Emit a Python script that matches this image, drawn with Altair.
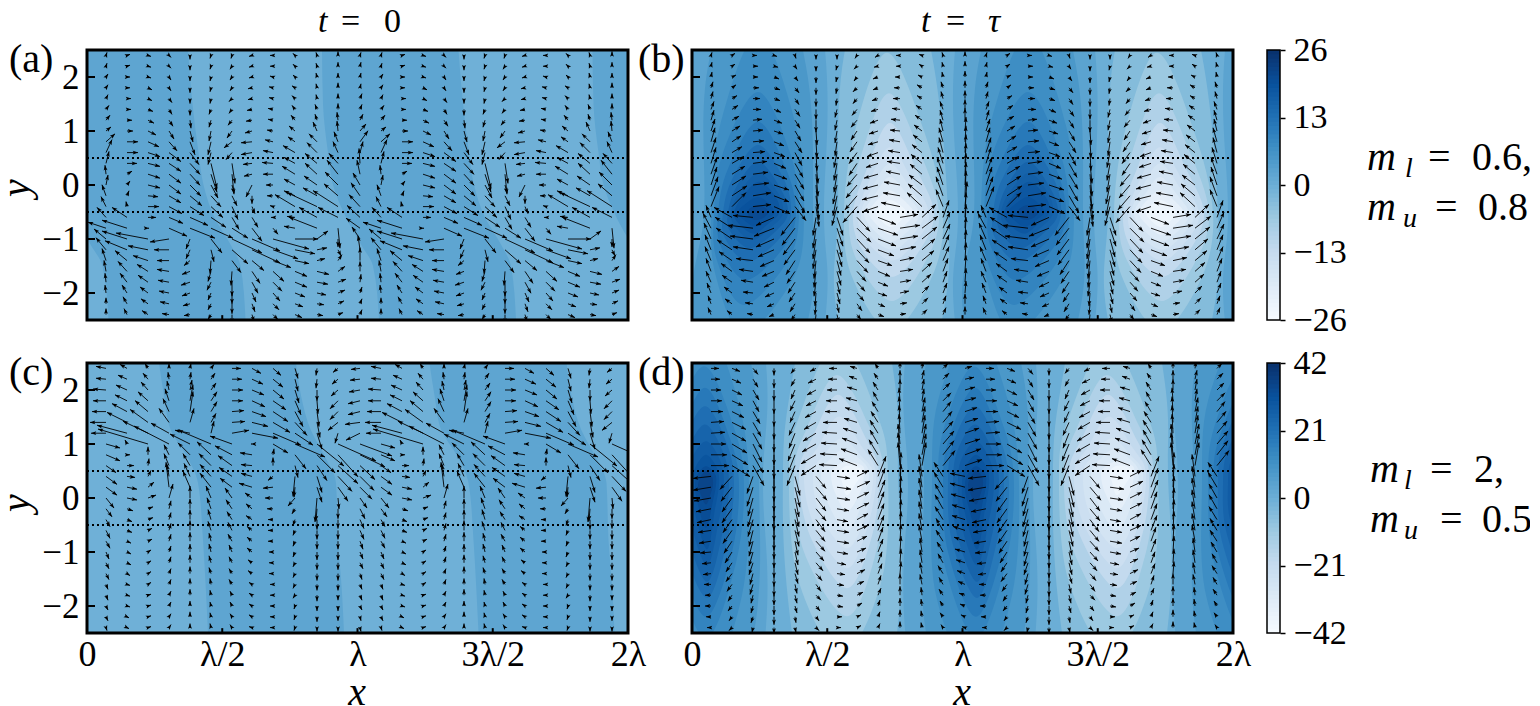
import altair as alt, pandas as pd, numpy as np

FONT="Liberation Serif"
BL_D=[0,.125,.25,.375,.5,.625,.75,.875,1]
BL_R=['#f7fbff','#deebf7','#c6dbef','#9ecae1','#6baed6','#4292c6','#2171b5','#08519c','#08306b']
S=alt.Scale(domain=BL_D,range=BL_R)
XS=alt.Scale(domain=[0,541],nice=False,zero=False)
YS=alt.Scale(domain=[-2.5,2.5],nice=False,zero=False)
XTICKS=[0,135.25,270.5,405.75,541]
YTICKS=[-2,-1,0,1,2]
ROW_Y=[2.4,2.2,2.0,1.8,1.6,1.4,1.2,1.0,.8,.6,.4,.2,0,-.2,-.4,-.6,-.8,-1,-1.2,-1.4,-1.6,-1.8,-2,-2.2,-2.4]
COL_X=[19,40,61,82,103,124,145,165,186,208,230,251,273,294,315,336,357,377,398,418,438,459,481,503,525]

# f, Ytop,Xtop, Yu,lu,ru, Ym,lm,rm, Yl,ll,rl, Ybot,Xbot
B_DARK=[[.55,9,64,3,-4,130,-.5,-4,132,-3,-4,130,-10,64],
[.60,5,66,2.2,16,114,-.52,12,121,-2.5,2,116,-6,56],
[.64,2.8,66,1.1,28,104,-.52,19,112,-1.7,24,102,-2.75,52],
[.68,1.72,66,.6,31,98,-.52,22,107,-1.4,25,96,-2.22,52],
[.72,1.17,66,.3,36,94,-.52,26,104,-1.15,29,92,-1.76,54],
[.76,.74,66,.1,40,92,-.52,31,99,-.98,33,88,-1.42,56],
[.80,.43,66,-.05,44,88,-.52,36,96,-.85,38,84,-1.17,58],
[.82,.22,67,-.15,47,86,-.52,39,91,-.77,43,80,-1.02,60],
[.85,.06,67,-.23,50,84,-.52,42,87,-.72,47,76,-.9,62],
[.87,-.22,66,-.37,52,78,-.52,46,82,-.65,52,74,-.77,63],
[.90,-.37,66,-.43,58,74,-.52,56,76,-.6,58,72,-.65,64]]
B_LIGHT=[[.44,5,199,2.4,152,240,-.52,146,256,-2.5,146,250,-6,199],
[.38,2.45,195,1,163,232,-.52,152,251,-1.7,160,240,-2.7,199],
[.32,1.7,197,.6,170,228,-.52,157,247,-1.4,165,234,-2.15,200],
[.26,1.15,198,.3,175,224,-.52,161,242,-1.2,170,228,-1.7,200],
[.22,.7,198,.1,178,220,-.52,166,237,-1,173,226,-1.4,200],
[.18,.4,198,-.05,180,218,-.52,169,232,-.9,176,222,-1.2,200],
[.14,.15,198,-.2,182,216,-.52,172,227,-.8,180,219,-1.05,199],
[.09,-.1,198,-.3,184,213,-.52,177,222,-.72,184,214,-.92,199],
[.05,-.28,198,-.4,188,210,-.52,184,214,-.64,188,210,-.78,199]]
D_DARK=[[.55,9,10,3,-54,71,.25,-54,71,-3,-54,71,-10,10],
[.60,5,12,2.5,-36,59,.25,-38,67,-2.5,-36,62,-5.5,12],
[.64,3.2,12,1.8,-24,46,.25,-30,57,-1.8,-26,50,-3.4,14],
[.68,2.44,12,1.3,-18,42,.25,-24,52,-1.2,-18,44,-2.6,14],
[.72,2.04,13,1.1,-13,38,.25,-19,47,-1,-14,40,-2.2,14],
[.76,1.7,13,1,-9,35,.25,-14,42,-.8,-10,35,-1.85,15],
[.80,1.36,13,.85,-5,31,.25,-9,37,-.6,-6,31,-1.55,15],
[.83,1.05,14,.7,-1,28,.25,-4,32,-.4,-2,27,-1.25,15],
[.86,.8,14,.55,3,25,.25,0,27,-.2,2,23,-.95,15],
[.89,.59,14,.45,6,23,.25,3,24,-.05,5,21,-.55,14],
[.92,.5,14,.4,9,20,.25,6,21,.1,8,19,-.12,14]]
D_LIGHT=[[.44,7,150,2.5,103,200,.45,91,206,-2.5,100,205,-8,150],
[.38,2.9,146,1.5,107,186,.45,97,196,-1.5,106,190,-2.9,150],
[.32,2.28,145,1.3,115,178,.45,102,192,-1,112,184,-2.19,155],
[.26,1.91,146,1.1,120,174,.45,107,187,-.7,118,180,-1.67,155],
[.22,1.51,147,.95,126,170,.45,112,184,-.5,122,176,-1.3,155],
[.18,1.11,150,.8,132,168,.45,121,181,-.3,128,174,-.93,155],
[.14,.9,152,.72,138,168,.45,129,177,-.1,136,170,-.62,155],
[.09,.68,155,.6,145,170,.45,139,172,.1,143,168,-.25,155],
[.05,.6,158,.55,150,168,.45,148,170,.3,150,165,.05,155]]

A_BAND_Y=[2.5,1.5,.6,0,-.6,-1.1,-1.5,-2.5]
A_BAND_L=[235,236,241,246,259,274,286,292]
A_BAND_R=[371.5,376,382,387,398,414,424,429]
C_BAND_Y=[2.5,1.9,1.25,.8,.28,-.78,-1.75,-2.5]
C_BAND_L=[72,77,84,99,111,116,119,121]
C_BAND_R=[209,214,224,237,249,251,255,257]

# arrow components (u,v) per row, 13 columns of one wavelength
A_UV=[[1,3,3,1,3,-1,2,-2,0,-4,-1,-3,-1,-3,-3,-1,-3,0,-2,2,-1,3,0,4,1,3],
[1,3,3,1,3,-1,2,-2,0,-4,-1,-3,-2,-3,-3,-1,-3,0,-2,2,-1,3,0,4,1,4],
[2,3,3,0,3,-1,2,-3,0,-4,-1,-4,-2,-3,-3,-1,-3,1,-2,2,-1,4,0,4,1,4],
[2,3,3,0,4,-2,2,-3,0,-5,-1,-4,-2,-3,-4,-1,-4,1,-3,2,-1,4,0,5,1,4],
[2,4,4,0,4,-2,3,-4,0,-5,-1,-5,-3,-3,-4,-1,-4,1,-3,3,-1,4,0,5,2,5],
[3,4,4,0,5,-2,3,-5,0,-6,-2,-5,-3,-4,-5,-1,-5,1,-3,4,-2,5,0,6,2,5],
[4,5,5,0,6,-3,4,-6,1,-8,-2,-7,-4,-5,-6,-1,-5,1,-4,5,-2,6,-1,8,3,6],
[5,4,6,0,8,-4,5,-8,3,-11,-2,-10,-5,-7,-7,-2,-6,1,-6,5,-4,9,-1,10,6,7],
[9,8,11,0,11,-5,8,-9,5,-13,-3,-13,-8,-6,-11,-1,-8,2,-7,5,-8,8,-4,10,8,11],
[6,13,11,0,12,-4,12,-9,9,-12,-3,-12,-6,-7,-11,-2,-10,2,-12,7,-10,10,-5,11,3,11],
[3,12,10,0,12,-3,12,-8,10,-11,6,-25,3,-20,-9,-1,-11,1,-11,6,-12,10,-9,10,-1,15],
[-1,9,5,3,12,-4,12,-9,10,-11,6,-18,2,-20,-8,-2,-10,0,-13,8,-12,11,-11,14,-3,14],
[2,10,3,4,12,-3,12,-9,11,-11,7,-13,2,-8,-6,-12,-7,0,-11,6,-13,9,-13,13,-7,12],
[-4,11,2,5,10,-1,12,-7,12,-10,10,-11,5,-10,0,-8,-6,0,-11,5,-14,8,-14,12,-9,13],
[-5,10,-1,5,11,0,13,-7,14,-9,12,-11,6,-13,3,-7,-3,1,-20,12,-30,14,-25,16,-11,12],
[-9,10,-15,10,8,0,14,-6,18,-8,15,-10,7,-12,6,-10,-2,0,-8,1,-18,10,-20,10,-13,12],
[-18,6,-25,8,1,0,18,-8,25,-10,22,-10,16,-10,10,-13,5,-6,-11,2,-28,11,2,-20,-14,10],
[-12,10,-25,8,-32,6,-19,-3,-4,-10,11,-14,30,-14,28,-12,36,-10,23,0,11,8,0,-8,-8,12],
[-10,12,-22,9,-20,4,-15,0,-4,-9,3,-12,16,-14,28,-13,25,-9,20,-4,10,2,3,-6,-2,14],
[-4,12,-12,10,-15,5,-12,0,-6,-5,-1,-13,9,-12,12,-10,18,-7,14,-3,8,2,4,6,0,13],
[-2,11,-9,10,-11,7,-12,2,-8,-3,-3,-10,-1,-14,8,-12,11,-10,12,-5,12,-3,7,5,0,10],
[-1,9,-7,9,-10,7,-11,2,-9,-3,-4,-8,0,-14,6,-11,9,-9,12,-5,11,-2,8,3,1,8],
[-1,8,-5,8,-8,6,-10,2,-8,-3,-3,-7,0,-11,4,-9,7,-8,10,-4,9,-2,7,3,2,6],
[0,6,-4,7,-7,5,-9,2,-7,-2,-3,-6,0,-10,3,-8,6,-6,8,-3,7,-1,6,3,2,5],
[0,6,-3,6,-6,4,-7,1,-6,-1,-3,-5,0,-9,2,-7,5,-5,7,-3,6,-1,5,2,2,5]]
B_UV=[[1,3,3,2,4,0,3,-1,1,-3,0,-4,0,-4,-2,-3,-3,-2,-4,0,-3,1,-1,3,0,4],
[1,4,3,2,5,0,4,-1,2,-3,0,-5,-1,-4,-3,-3,-4,-1,-4,0,-3,2,-1,4,0,5],
[1,5,4,2,5,0,5,-2,3,-4,0,-6,-1,-5,-3,-4,-5,-2,-5,0,-4,2,-1,5,0,6],
[2,6,4,3,6,0,6,-2,4,-5,0,-7,-1,-6,-4,-4,-5,-2,-6,0,-5,3,-2,6,0,7],
[2,7,5,3,7,0,6,-2,4,-6,0,-8,-1,-7,-4,-5,-6,-2,-7,0,-5,3,-2,7,0,8],
[3,8,6,4,8,0,7,-3,5,-7,0,-10,-2,-8,-5,-6,-7,-2,-8,1,-6,4,-3,8,0,10],
[3,10,7,4,9,1,8,-3,5,-8,0,-12,-2,-10,-6,-7,-8,-3,-9,1,-7,5,-3,10,0,12],
[4,12,8,5,10,1,9,-3,6,-10,1,-14,-2,-12,-6,-9,-9,-3,-10,1,-8,6,-3,12,1,14],
[4,14,9,6,11,1,10,-4,7,-11,1,-16,-2,-14,-7,-10,-10,-3,-11,2,-9,7,-4,14,1,16],
[5,15,10,6,12,1,11,-4,7,-13,1,-18,-3,-15,-8,-11,-11,-4,-12,2,-10,8,-4,15,1,18],
[5,16,12,7,14,2,12,-5,8,-14,2,-20,-3,-17,-8,-12,-12,-4,-13,2,-11,9,-5,16,1,20],
[6,17,13,8,15,2,13,-5,9,-15,2,-22,-3,-18,-10,-12,-14,-4,-14,3,-12,10,-6,17,1,21],
[6,18,14,9,16,2,15,-5,9,-16,2,-24,-4,-19,-11,-13,-15,-4,-16,3,-13,10,-6,18,1,23],
[7,19,15,10,18,3,15,-6,10,-17,3,-24,-4,-20,-12,-14,-16,-4,-17,3,-14,12,-7,19,1,25],
[8,20,14,14,18,2,16,-7,11,-14,3,-20,-5,-19,-14,-16,-15,-5,-19,4,-15,14,-7,17,2,25],
[-5,12,-18,10,-20,2,-18,-8,-14,-18,-3,-18,6,-18,13,-14,18,-7,18,3,14,13,6,17,1,25],
[-8,15,-17,11,-25,3,-20,-8,-13,-17,-3,-20,6,-18,14,-14,20,-7,20,3,16,12,7,16,1,24],
[-7,16,-16,11,-23,3,-18,-8,-12,-16,-3,-20,5,-18,13,-14,18,-7,18,3,15,12,7,15,1,22],
[-6,15,-15,10,-20,3,-16,-7,-11,-15,-3,-19,5,-17,12,-13,16,-6,16,3,13,11,6,15,1,20],
[-6,14,-13,9,-17,2,-14,-6,-9,-14,-2,-18,4,-15,11,-12,14,-5,14,3,12,10,6,14,1,18],
[-5,13,-11,8,-14,2,-12,-5,-8,-12,-2,-16,4,-14,9,-10,12,-5,13,2,10,9,5,13,1,16],
[-5,11,-10,7,-12,2,-10,-5,-7,-11,-2,-14,3,-12,8,-9,10,-4,11,2,9,8,4,11,1,14],
[-4,10,-8,6,-10,1,-9,-4,-6,-9,-1,-13,3,-11,7,-8,9,-3,9,2,7,7,4,10,1,12],
[-3,8,-7,5,-8,1,-7,-3,-5,-8,-1,-11,2,-9,5,-7,7,-3,7,1,6,6,3,8,0,10],
[-3,7,-5,4,-6,1,-5,-2,-4,-6,-1,-9,2,-8,4,-5,6,-2,6,1,5,5,3,7,0,8]]
C_UV=[[-10,2,-7,4,-3,5,0,5,1,5,3,4,9,0,9,-5,8,-7,3,-10,-1,-7,-5,-4,-9,-1],
[-10,1,-9,4,-5,6,-1,7,1,7,4,6,10,0,11,-5,10,-8,3,-12,-1,-9,-6,-5,-10,-1],
[-13,1,-11,5,-7,8,-2,9,2,10,5,7,11,0,12,-5,11,-9,4,-13,0,-11,-7,-6,-11,-2],
[-13,0,-12,6,-10,9,-4,12,3,16,6,9,11,0,13,-6,13,-9,6,-14,1,-13,-8,-8,-12,-3],
[-14,0,-15,8,-13,11,-6,13,3,20,6,10,12,1,14,-5,15,-10,8,-15,2,-15,-8,-8,-12,-3],
[-16,0,-20,10,-18,13,-10,14,4,14,5,9,13,1,16,-4,17,-10,12,-13,3,-15,-10,-8,-15,-2],
[-15,0,-30,8,-25,12,-18,10,-15,3,3,12,17,3,26,-5,28,-12,18,-12,5,-16,-3,-10,-14,-7],
[14,-4,-2,4,-50,15,-35,18,-20,10,-33,14,-22,8,-1,0,15,-9,30,-13,27,-22,38,-17,32,-12],
[14,-6,3,0,0,8,-5,10,-12,12,-14,13,-17,9,-12,2,1,6,11,-14,18,-18,20,-22,25,-12],
[10,-7,7,0,1,7,-5,12,-7,12,-12,12,-14,10,-11,1,0,8,3,-12,10,-15,20,-18,15,-14],
[11,-8,8,-1,3,6,-2,12,-6,13,-11,12,-13,9,-11,3,-5,-4,-2,-20,5,-16,14,-15,14,-14],
[11,-8,10,-2,6,5,-3,25,-7,16,-11,14,-12,9,-13,4,-10,-1,-1,-10,5,-15,10,-14,12,-12],
[8,-10,10,-2,8,3,4,14,0,12,-5,12,-7,10,-7,5,-8,0,-7,-8,-2,-24,1,-11,7,-10],
[6,-8,6,-2,5,2,2,8,0,10,-4,11,-6,9,-6,5,-6,0,-3,-5,-1,-12,0,-10,5,-10],
[4,-7,5,-2,5,2,2,7,0,10,-3,10,-5,8,-6,4,-5,0,-2,-6,0,-10,0,-9,4,-9],
[4,-8,5,-2,4,2,2,7,0,10,-3,9,-4,8,-5,4,-5,0,-2,-5,0,-9,0,-9,4,-9],
[4,-7,4,-2,4,2,2,7,0,9,-2,8,-4,7,-5,4,-5,0,-2,-5,0,-8,0,-8,3,-8],
[3,-7,4,-2,3,2,2,6,0,8,-2,8,-3,7,-5,4,-4,0,-2,-5,0,-8,0,-8,3,-7],
[3,-6,4,-2,3,2,2,6,0,8,-2,7,-3,6,-4,3,-4,0,-2,-4,0,-7,0,-7,3,-6],
[3,-6,3,-2,3,2,2,5,0,7,-2,6,-3,5,-4,3,-4,0,-2,-4,0,-7,0,-7,2,-6],
[2,-5,3,-1,3,2,2,5,0,6,-1,6,-3,5,-3,2,-3,0,-2,-4,0,-6,0,-6,2,-5],
[2,-5,3,-1,3,1,2,4,0,6,-1,5,-2,4,-3,2,-3,0,-2,-3,0,-6,0,-5,2,-5],
[2,-4,3,-1,3,1,2,4,0,5,-1,4,-2,4,-3,2,-3,0,-1,-3,0,-5,0,-5,2,-4],
[2,-4,2,-1,3,1,2,3,0,5,-1,4,-2,3,-3,2,-3,0,-1,-3,0,-5,0,-4,1,-4],
[1,-3,2,-1,3,1,2,3,0,4,-1,4,-2,3,-3,1,-3,0,-1,-3,0,-4,0,-4,1,-4]]
D_UV=[[8,0,8,-3,5,-6,0,-7,-4,-5,-6,-3,-8,0,-7,2,-3,5,0,7,1,7,5,5,7,2],
[9,0,9,-4,5,-8,0,-9,-4,-7,-8,-4,-9,0,-8,3,-4,6,0,9,2,9,6,6,9,2],
[10,0,10,-5,6,-10,0,-11,-4,-9,-9,-5,-10,0,-10,3,-5,8,0,11,2,11,7,7,10,3],
[11,0,11,-5,6,-11,0,-13,-5,-10,-10,-5,-11,0,-11,3,-5,9,-1,13,2,12,8,8,11,3],
[12,0,12,-6,7,-12,0,-15,-5,-11,-11,-6,-12,0,-12,4,-6,10,-1,15,3,14,8,10,12,4],
[13,1,14,-7,8,-14,0,-17,-6,-13,-12,-7,-14,0,-13,4,-7,11,-1,17,3,16,9,11,13,4],
[14,1,14,-8,9,-16,0,-19,-6,-15,-13,-8,-15,1,-14,5,-8,13,-1,19,3,18,10,12,14,5],
[15,0,15,-9,9,-18,0,-21,-7,-17,-14,-8,-16,1,-15,6,-8,14,-2,20,4,20,11,13,15,5],
[16,0,16,-10,10,-18,0,-24,-7,-18,-15,-9,-17,1,-16,6,-9,15,-2,22,4,21,11,14,16,6],
[18,0,18,-11,11,-20,0,-26,-8,-20,-15,-10,-18,1,-18,7,-10,16,-2,23,4,23,12,15,17,6],
[-18,-2,-12,-13,-6,-17,0,-25,5,-19,10,-12,13,-2,12,6,8,20,1,24,-3,22,-9,14,-15,3],
[-18,-3,-11,-14,-6,-19,0,-24,5,-20,11,-13,14,-2,13,6,7,19,1,23,-3,21,-9,15,-15,4],
[-17,-3,-10,-14,-5,-18,0,-23,4,-19,10,-13,13,-2,12,6,7,18,1,22,-3,20,-8,14,-14,4],
[-15,-3,-10,-14,-5,-18,0,-22,4,-18,10,-12,12,-2,12,6,6,17,1,21,-3,19,-8,14,-13,4],
[-14,-3,-9,-13,-5,-17,0,-21,4,-17,9,-12,11,-2,11,6,6,16,1,20,-3,18,-8,13,-13,4],
[-13,-2,-9,-13,-4,-16,0,-20,4,-16,9,-11,12,-2,11,5,6,15,1,19,-3,17,-7,12,-12,4],
[-12,-2,-8,-12,-4,-15,0,-18,3,-14,9,-10,12,-2,10,5,5,14,1,17,-3,16,-7,11,-11,4],
[-11,-1,-7,-11,-4,-14,0,-16,3,-13,8,-9,11,-2,9,4,5,13,1,16,-2,14,-6,10,-10,3],
[-9,-1,-6,-9,-4,-12,0,-15,3,-12,7,-8,9,-2,8,4,4,11,1,14,-2,13,-5,9,-9,3],
[-8,-1,-6,-8,-3,-11,0,-13,3,-10,6,-7,8,-1,8,4,4,10,1,12,-2,11,-5,8,-8,3],
[-7,0,-5,-7,-3,-10,0,-12,2,-9,5,-7,7,-1,7,3,3,9,0,11,-2,10,-4,7,-7,3],
[-6,0,-4,-6,-2,-8,0,-10,2,-8,5,-5,6,-1,6,3,3,7,0,9,-1,8,-4,6,-6,2],
[-6,0,-4,-5,-2,-7,0,-9,2,-7,4,-5,6,-1,5,3,2,6,0,8,-1,7,-3,5,-5,2],
[-5,0,-3,-4,-2,-6,0,-8,1,-6,3,-4,5,0,4,2,2,5,0,7,-1,6,-3,4,-4,2],
[-4,0,-3,-3,-1,-5,0,-6,1,-5,3,-3,4,0,4,2,2,4,0,6,-1,5,-2,3,-3,1]]

# every layer of a panel shares one axis definition, so that they merge
AX={}
def set_axes(xlabels,ylabels):
    AX["x"]=alt.Axis(values=XTICKS,tickSize=0,domain=False,grid=False,title=None,labelFont=FONT,labelFontSize=36,labelColor="black",labelPadding=4,
        labels=xlabels,labelFlush=False,labelOverlap=False,
        labelExpr="datum.value==0?'0':datum.value<200?'λ/2':datum.value<300?'λ':datum.value<500?'3λ/2':'2λ'")
    AX["y"]=alt.Axis(values=YTICKS,tickSize=0,domain=False,grid=False,title=None,labelFont=FONT,labelFontSize=35,labelColor="black",labelPadding=8,
        labels=ylabels,labelBaseline="middle")
def sx(f="x"): return alt.X(f+":Q",scale=XS,axis=AX["x"],title=None)
def sy(f="y"): return alt.Y(f+":Q",scale=YS,axis=AX["y"],title=None)

def poly(c,off):
    f,Ty,Tx,Yu,lu,ru,Ym,lm,rm,Yl,ll,rl,By,Bx=c
    xs=[Tx,ru,rm,rl,Bx,ll,lm,lu]; ys=[Ty,Yu,Ym,Yl,By,Yl,Ym,Yu]
    df=pd.DataFrame({"x":[v+off for v in xs],"y":ys,"o":range(8),"f":f})
    return alt.Chart(df).mark_line(interpolate="cardinal-closed",clip=True,strokeWidth=0,filled=True).encode(
        x=sx(),y=sy(),order=alt.Order("o:Q"),fill=alt.Fill("f:Q",scale=S,legend=None))

def band(Y,L,R,off,f):
    df=pd.DataFrame({"y":Y,"x":[v+off for v in L],"x2":[v+off for v in R],"f":f})
    return alt.Chart(df).mark_area(orient="horizontal",interpolate="monotone",clip=True).encode(
        y=sy(),x=sx(),x2="x2:Q",fill=alt.Fill("f:Q",scale=S,legend=None))

def txt(s,x,y,size,style="normal",align="left",angle=0):
    kw={"angle":angle} if angle else {}
    return alt.Chart(pd.DataFrame({"t":[s]})).mark_text(font=FONT,fontSize=size,fontStyle=style,align=align,baseline="alphabetic",color="black",**kw).encode(
        x=alt.value(x),y=alt.value(y),text="t:N")

def base(f):
    df=pd.DataFrame({"x":[0],"x2":[541],"y":[-2.5],"y2":[2.5],"f":[f]})
    return alt.Chart(df).mark_rect().encode(x=sx(),x2="x2:Q",y=sy(),y2="y2:Q",fill=alt.Fill("f:Q",scale=S,legend=None))

def arrows(uv):
    rows=[]
    for j,y in enumerate(ROW_Y):
        r=uv[j]
        for i,x in enumerate(COL_X):
            k=i%13
            u,v=r[2*k],r[2*k+1]
            L=max(np.hypot(u,v),1e-6)
            rows.append(dict(x=x,y=y,x2=x+u,y2=y+v/54,hx=x+u-2.5*u/L,hy=y+(v-2.5*v/L)/54,a=float(np.degrees(np.arctan2(u,v)))%360))
    df=pd.DataFrame(rows)
    shaft=alt.Chart(df).mark_rule(color="black",strokeWidth=.9,clip=True).encode(x=sx(),y=sy(),x2="x2:Q",y2="y2:Q")
    head=alt.Chart(df).mark_point(shape="M0,-1L-.7,1L0,.6L.7,1Z",filled=True,color="black",opacity=1,size=30,clip=True).encode(
        x=sx("hx"),y=sy("hy"),angle=alt.Angle("a:Q",scale=None))
    return [shaft,head]

def dots():
    return alt.Chart(pd.DataFrame({"y":[.5,-.5],"x":[0,0],"x2":[541,541]})).mark_rule(color="black",strokeWidth=2,strokeDash=[2,3]).encode(x=sx(),x2="x2:Q",y=sy())
def over():
    tx=alt.Chart(pd.DataFrame({"x":XTICKS,"y":[-2.5]*5,"y2":[-2.41]*5})).mark_rule(color="black",strokeWidth=2).encode(x=sx(),y=sy(),y2="y2:Q")
    ty=alt.Chart(pd.DataFrame({"y":YTICKS,"x":[0]*5,"x2":[8]*5})).mark_rule(color="black",strokeWidth=2).encode(y=sy(),x=sx(),x2="x2:Q")
    fr=alt.Chart(pd.DataFrame({"x":[0],"x2":[541],"y":[-2.5],"y2":[2.5]})).mark_rect(filled=False,stroke="black",strokeWidth=3).encode(x=sx(),x2="x2:Q",y=sy(),y2="y2:Q")
    return [tx,ty,fr]

def panel(layers,uv,extra):
    return alt.layer(*layers,dots(),*arrows(uv),*over(),*extra).properties(width=541,height=270)

def cbar(vmax):
    edges=np.linspace(-vmax,vmax,65)
    df=pd.DataFrame({"a":edges[:-1],"b":np.minimum(edges[1:]+vmax*.01,vmax),"f":(edges[:-1]+edges[1:])/(4*vmax)+.5,"x":0,"x2":1})
    ys=alt.Scale(domain=[-vmax,vmax],nice=False,zero=False)
    ax=alt.Axis(orient="right",values=[-vmax,-vmax/2,0,vmax/2,vmax],format="d",tickSize=5,tickWidth=1.5,tickColor="black",domain=False,grid=False,title=None,
        labelFont=FONT,labelFontSize=34,labelColor="black",labelPadding=8,labelOverlap=False,labelFlush=False)
    xs=alt.Scale(domain=[0,1],nice=False,zero=False)
    xa=alt.Axis(labels=False,ticks=False,domain=False,grid=False,title=None)
    r=alt.Chart(df).mark_rect().encode(x=alt.X("x:Q",scale=xs,axis=xa),x2="x2:Q",y=alt.Y("a:Q",scale=ys,axis=ax),y2="b:Q",fill=alt.Fill("f:Q",scale=S,legend=None))
    fr=alt.Chart(pd.DataFrame({"x":[0],"x2":[1],"a":[-vmax],"b":[vmax]})).mark_rect(filled=False,stroke="black",strokeWidth=1.5).encode(
        x=alt.X("x:Q",scale=xs,axis=xa),x2="x2:Q",y=alt.Y("a:Q",scale=ys,axis=ax),y2="b:Q")
    return r,fr

set_axes(False,True)
pa=panel([base(.49)]+[band(A_BAND_Y,A_BAND_L,A_BAND_R,o,.54) for o in (-270.5,0,270.5)],A_UV,
    [txt("(a)",-78,22,40),txt("y",-58,138,40,"italic","center",270),
    txt("t",231,-18,34,"italic"),txt("=",254,-18,34),txt("0",297,-18,34)])
set_axes(False,False)
pb=panel([base(.5)]+[poly(B_DARK[0],o) for o in (0,270,540)]+[poly(c,o) for c in B_DARK[1:] for o in (0,270)]+[poly(c,o) for c in B_LIGHT for o in (0,270)],B_UV,
    [txt("(b)",-54,22,40),txt("t",229,-18,34,"italic"),txt("=",254,-18,34),txt("τ",296,-18,34,"italic")])
set_axes(True,True)
pc=panel([base(.49)]+[band(C_BAND_Y,C_BAND_L,C_BAND_R,o,.54) for o in (0,270.5)],C_UV,
    [txt("(c)",-78,22,40),txt("y",-58,140,40,"italic","center",270),txt("x",270,342,40,"italic","center")])
set_axes(True,False)
pd_=panel([base(.5)]+[poly(c,o) for c in D_DARK for o in (0,270,540)]+[poly(c,o) for c in D_LIGHT for o in (0,270)],D_UV,
    [txt("(d)",-54,22,40),txt("x",270,342,40,"italic","center")])

def cpanel(vmax,extra):
    r,fr=cbar(vmax)
    return alt.layer(r,fr,*extra).properties(width=13,height=270)

c1=cpanel(26,[txt("m",100,120,40,"italic"),txt("l",138,127,28,"italic"),txt("=",161,120,40),txt("0.6,",205,120,40),
              txt("m",100,170,40,"italic"),txt("u",136,177,28,"italic"),txt("=",168,170,40),txt("0.8",211,170,40)])
c2=cpanel(42,[txt("m",103,119,40,"italic"),txt("l",137,126,28,"italic"),txt("=",163,119,40),txt("2,",207,119,40),
              txt("m",103,169,40,"italic"),txt("u",137,176,28,"italic"),txt("=",173,169,40),txt("0.5",215,169,40)])

def spacer(w):
    return alt.Chart(pd.DataFrame({"a":[0]})).mark_point(opacity=0).encode(x=alt.value(0),y=alt.value(0)).properties(width=w,height=270)

chart=alt.concat(pa,spacer(32),pb,spacer(2),c1,pc,spacer(32),pd_,spacer(2),c2,columns=5,align="each",bounds="flush",spacing={"row":43,"column":16}).properties(
    padding={"left":-11,"top":-3,"right":-2,"bottom":-8}).configure_view(stroke=None)
chart.save("out.html",embed_options={"renderer":"svg","actions":False})
